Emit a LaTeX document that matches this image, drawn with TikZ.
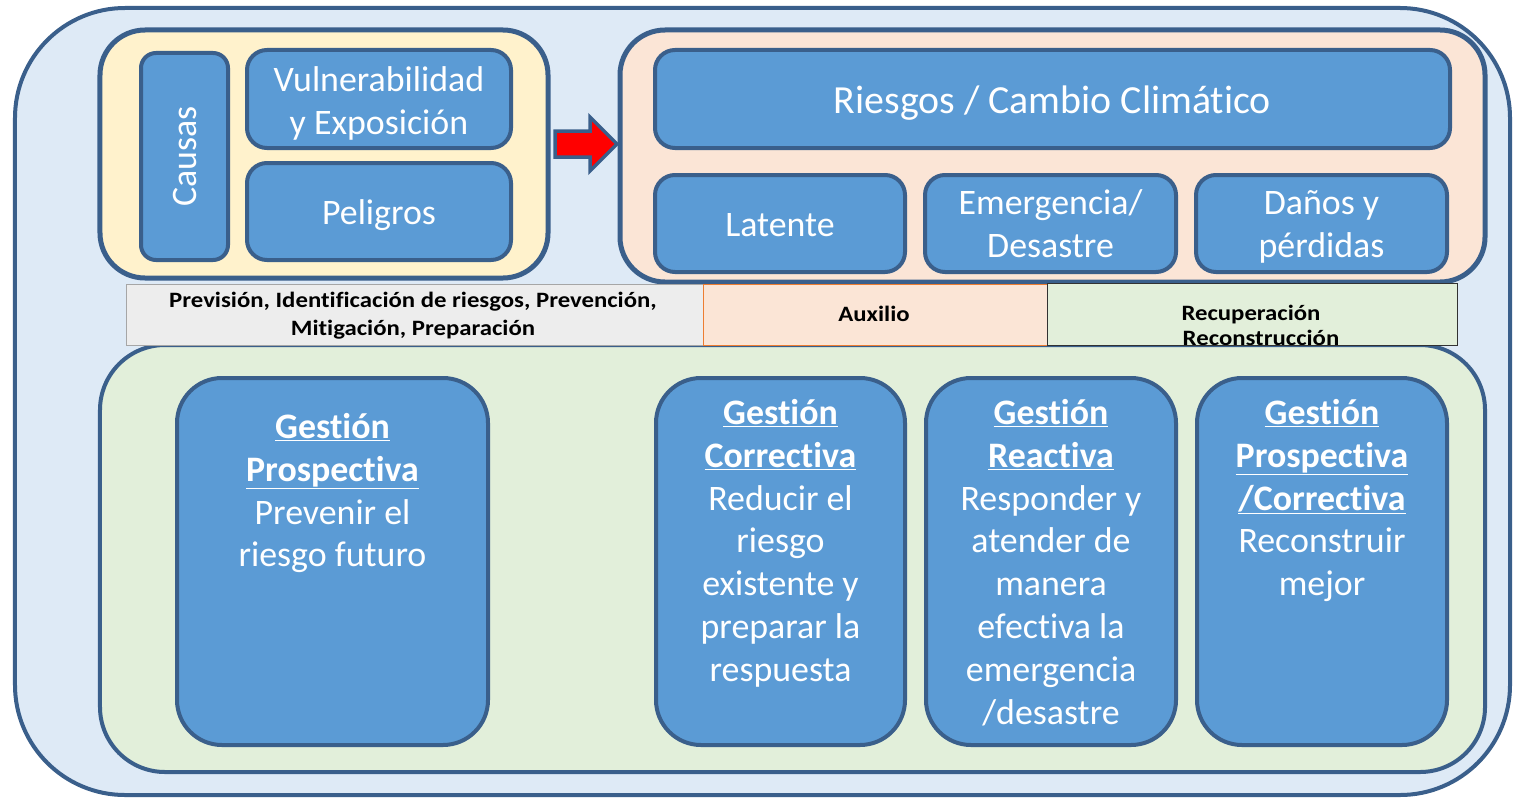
\documentclass[tikz,border=0pt]{standalone}
\usepackage{fontspec}
\setmainfont[Ligatures={NoCommon,NoContextual}]{Carlito}
\newfontfamily\barfont[FakeStretch=1.13,Ligatures={NoCommon,NoContextual}]{Carlito}
\definecolor{dk}{RGB}{58,95,139}
\definecolor{bl}{RGB}{91,155,213}
\definecolor{outerfill}{RGB}{222,234,246}
\definecolor{yel}{RGB}{255,242,204}
\definecolor{sal}{RGB}{251,229,214}
\definecolor{grn}{RGB}{226,239,218}
\definecolor{gry}{RGB}{237,237,237}
\definecolor{orn}{RGB}{237,125,49}
\tikzset{
  frame/.style={draw=dk, line width=4bp, inner sep=0pt},
  bbox/.style={draw=dk, fill=bl, line width=4bp, rounded corners=20bp, inner sep=0pt},
  btxt/.style={text=white, font=\fontsize{36}{43}\selectfont, align=center, inner sep=0pt},
  bigbox/.style={bbox, rounded corners=45bp},
  btext/.style={btxt, anchor=north},
  bar/.style={line width=1bp, inner sep=0pt, font=\barfont\bfseries\fontsize{22}{28}\selectfont, align=center},
}
\begin{document}
\begin{tikzpicture}[x=1bp,y=-1bp]
\useasboundingbox[fill=white] (0,0) rectangle (1517,800);
% outer frame
\node[frame, fill=outerfill, rounded corners=110bp, minimum width=1495bp, minimum height=787bp] (outer) at (762.5,401.5) {};
% top left group
\node[frame, fill=yel, line width=5bp, rounded corners=45bp, minimum width=448bp, minimum height=248bp] (yellow) at (324,154) {};
\node[bbox, rounded corners=15bp, minimum width=87bp, minimum height=207bp] (causas) at (184.5,156.5) {};
\node[btxt, rotate=90] (causastxt) at (causas) {Causas};
\node[bbox, minimum width=264bp, minimum height=98bp] (vuln) at (379,99) {};
\node[btxt] (vulntxt) at (379,103.5) {Vulnerabilidad\\y Exposición};
\node[bbox, minimum width=264bp, minimum height=97bp] (pelig) at (379,211.5) {};
\node[btxt] (peligtxt) at (379,215) {Peligros};
% top right group
\node[frame, fill=sal, line width=5bp, rounded corners=45bp, minimum width=865bp, minimum height=252bp] (salmon) at (1052.5,156) {};
\node[bbox, minimum width=795bp, minimum height=98bp] (riesgos) at (1052.5,99) {};
\node[btxt, font=\fontsize{40}{43}\selectfont] (riesgostxt) at (1052.5,103) {Riesgos / Cambio Climático};
\node[bbox, minimum width=250bp, minimum height=97bp] (latente) at (780,223.5) {};
\node[btxt] (latentetxt) at (780,225) {Latente};
\node[bbox, minimum width=251bp, minimum height=97bp] (emerg) at (1050.5,223.5) {};
\node[btxt] (emergtxt) at (1050.5,224) {Emergencia/\\Desastre};
\node[bbox, minimum width=251bp, minimum height=97bp] (danos) at (1321.5,223.5) {};
\node[btxt] (danostxt) at (1321.5,227) {Daños y\\pérdidas};
% arrow
\draw[draw=dk, fill=red, line width=3.5bp, line join=miter]
  (555,131) -- (590,131) -- (590,117) -- (617,144) -- (590,171) -- (590,157) -- (555,157) -- cycle;
% bottom group
\node[frame, fill=grn, rounded corners=65bp, minimum width=1385bp, minimum height=427bp] (green) at (792.5,558.5) {};
% bars
\node[bar, draw={rgb,255:red,166;green,166;blue,166}, fill=gry, minimum width=576bp, minimum height=61bp] (prev) at (415,314.5) {};
\node[bar] (prevtxt) at (413,316) {Previsión, Identificación de riesgos, Prevención,\\Mitigación, Preparación};
\node[bar, draw=orn, fill=sal, minimum width=345bp, minimum height=61bp] (aux) at (875.5,314.5) {};
\node[bar] (auxtxt) at (874,314) {Auxilio};
\node[bar, fill=grn, minimum width=409bp, minimum height=61bp] (rec) at (1252.5,314.5) {};
\node[bar, font=\barfont\bfseries\fontsize{22}{25}\selectfont] (rectxt) at (1251,325.5) {Recuperación\\\hspace*{20bp}Reconstrucción};
\draw[line width=1.2bp, draw={rgb,255:red,50;green,50;blue,50}] (rec.north west) rectangle (rec.south east);
% bottom boxes
\node[bigbox, minimum width=311bp, minimum height=367bp] (g1) at (332.5,561.5) {};
\node[bigbox, minimum width=249bp, minimum height=367bp] (g2) at (780.5,561.5) {};
\node[bigbox, minimum width=250bp, minimum height=367bp] (g3) at (1051,561.5) {};
\node[bigbox, minimum width=250bp, minimum height=367bp] (g4) at (1322,561.5) {};
\node[btext] (t1) at (332.5,413) {\textbf{\underline{Gestión}}\\\textbf{\underline{Prospectiva}}\\Prevenir el\\riesgo futuro};
\node[btext] (t2) at (780.5,399) {\textbf{\underline{Gestión}}\\\textbf{\underline{Correctiva}}\\Reducir el\\riesgo\\existente y\\preparar la\\respuesta};
\node[btext] (t3) at (1051,399) {\textbf{\underline{Gestión}}\\\textbf{\underline{Reactiva}}\\Responder y\\atender de\\manera\\efectiva la\\emergencia\\/desastre};
\node[btext] (t4) at (1322,399) {\textbf{\underline{Gestión}}\\\textbf{\underline{Prospectiva}}\\\textbf{\underline{/Correctiva}}\\Reconstruir\\mejor};
\end{tikzpicture}
\end{document}
